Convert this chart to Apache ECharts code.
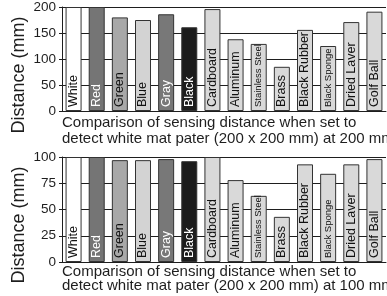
<!DOCTYPE html>
<html>
<head>
<meta charset="utf-8">
<script src="https://cdn.jsdelivr.net/npm/echarts@6/dist/echarts.min.js"></script>
<style>html,body{margin:0;padding:0;background:#fff}#chart{width:387px;height:296px}</style>
</head>
<body>
<div id="chart"></div>
<script>
var categories = ["White", "Red", "Green", "Blue", "Gray", "Black", "Cardboard", "Aluminum",
    "Stainless Steel", "Brass", "Black Rubber", "Black Sponge", "Dried Laver", "Golf Ball"];
// sensing distance (mm), sensor set on white paper at 200 mm / at 100 mm
var dist200 = [200, 200, 180, 175, 186, 161, 196, 138, 129, 85, 156, 125, 171, 191];
var dist100 = [100, 100, 97, 97, 98, 96, 100, 78, 63, 43, 93, 84, 93, 98];
var ticks200 = [0, 50, 100, 150, 200];
var ticks100 = [0, 25, 50, 75, 100];
var axisName = "Distance (mm)";
var caption200 = "Comparison of sensing distance when set to\ndetect white mat pater (200 x 200 mm) at 200 mm";
var caption100 = "Comparison of sensing distance when set to\ndetect white mat pater (200 x 200 mm) at 100 mm";

var FONT = "'Liberation Sans', Arial, sans-serif";
var ink = "#1e1e1e";
var fills = {White: "#ffffff", Red: "#757575", Green: "#a8a8a8", Blue: "#d3d3d3", Gray: "#787878", Black: "#1c1c1c"};
var whiteText = {Red: 1, Gray: 1, Black: 1};
var narrow = {"Stainless Steel": 1, "Black Sponge": 1};

function bars(vals) {
    var out = [];
    for (var i = 0; i < categories.length; i++) {
        var c = categories[i];
        out.push({
            value: vals[i],
            itemStyle: {color: fills[c] || "#d9d9d9"},
            label: {
                color: whiteText[c] ? "#ffffff" : "#111111",
                fontFamily: FONT,
                fontSize: narrow[c] ? 9.5 : 12.5
            }
        });
    }
    return out;
}

function xAx(i) {
    return {
        type: "category", gridIndex: i, data: categories,
        axisLine: {lineStyle: {color: ink, width: 1}},
        axisTick: {inside: true, length: 5, interval: 0, lineStyle: {color: ink}},
        axisLabel: {show: false}
    };
}

function yAx(i, t) {
    return {
        type: "value", gridIndex: i, min: t[0], max: t[t.length - 1], interval: t[1] - t[0],
        axisLine: {show: true, lineStyle: {color: ink}},
        axisTick: {show: true, length: 3, lineStyle: {color: ink}},
        axisLabel: {fontSize: 13.5, color: ink, fontFamily: FONT, margin: 6},
        splitLine: {lineStyle: {color: ink, width: 1}}
    };
}

function ser(i, vals) {
    return {
        type: "bar", xAxisIndex: i, yAxisIndex: i, barWidth: 16,
        data: bars(vals),
        itemStyle: {borderColor: "#333333", borderWidth: 1},
        label: {
            show: true, formatter: "{b}", position: "insideBottom", distance: 4,
            rotate: 90, align: "left", verticalAlign: "middle"
        }
    };
}

function txt(x, y, s, size, rot, lh) {
    return {
        type: "text", x: x, y: y, rotation: rot || 0,
        style: {
            text: s, fill: ink, font: size + "px " + FONT,
            align: rot ? "center" : "left", verticalAlign: rot ? "middle" : "top",
            lineHeight: lh || size
        }
    };
}

var h = echarts.init(document.getElementById("chart"));
var option = {
    animation: false,
    grid: [
        {left: 62, top: 6, width: 324, height: 105},
        {left: 62, top: 157, width: 324, height: 105}
    ],
    xAxis: [xAx(0), xAx(1)],
    yAxis: [yAx(0, ticks200), yAx(1, ticks100)],
    series: [ser(0, dist200), ser(1, dist100)],
    graphic: [
        txt(19, 75, axisName, 18, Math.PI / 2),
        txt(19, 225, axisName, 18, Math.PI / 2),
        txt(62, 115, caption200, 15, 0, 16),
        txt(62, 265, caption100, 15, 0, 14)
    ]
};
h.setOption(option);
</script>
</body>
</html>
